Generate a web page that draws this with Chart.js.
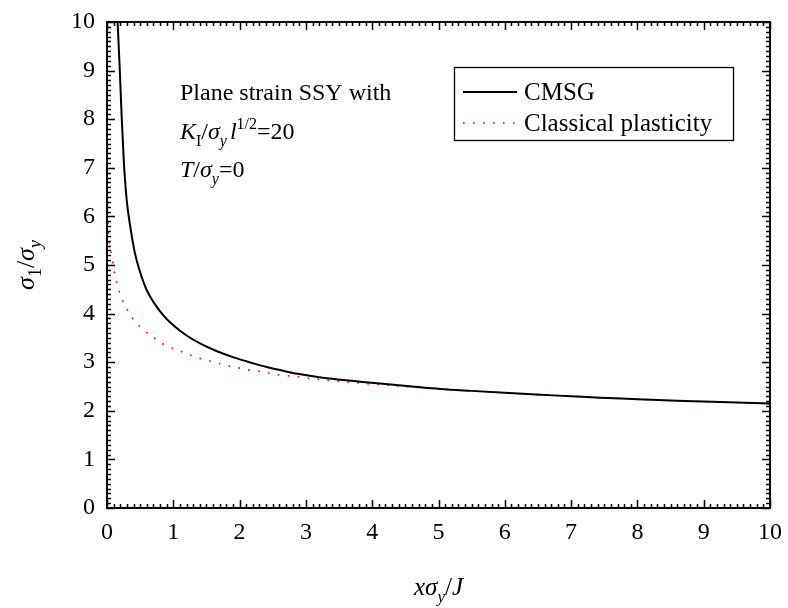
<!DOCTYPE html>
<html>
<head>
<meta charset="utf-8">
<script src="https://cdn.jsdelivr.net/npm/chart.js@4"></script>
<style>
  html, body { margin: 0; padding: 0; background: #fff; }
  canvas { display: block; }
</style>
</head>
<body>
<canvas id="chart" width="788" height="608"></canvas>
<script>
// sigma_1/sigma_y ahead of the crack tip, CMSG vs classical plasticity
const cmsgX = [0.16, 0.19, 0.22, 0.255, 0.30, 0.35, 0.42, 0.50, 0.60, 0.72, 0.84, 1.0, 1.2, 1.41, 1.65,
  1.91, 2.2, 2.41, 2.7, 2.92, 3.2, 3.52, 3.82, 4.2, 4.6, 5.03, 5.5, 6.0, 6.54, 7.0, 7.44, 8.0, 8.5, 9.0, 9.5, 10.0];
const cmsgY = [10.0, 9.1, 8.1, 7.1, 6.3, 5.8, 5.25, 4.85, 4.48, 4.2, 3.98, 3.76, 3.55, 3.38, 3.23,
  3.10, 2.98, 2.90, 2.81, 2.75, 2.69, 2.64, 2.60, 2.55, 2.50, 2.45, 2.41, 2.37, 2.33, 2.30, 2.27, 2.24, 2.21, 2.19, 2.17, 2.15];

const classicalX = [0.0, 0.005, 0.02, 0.05, 0.075, 0.095, 0.125, 0.166, 0.216, 0.29, 0.386, 0.53, 0.68, 0.84, 1.0,
  1.16, 1.31, 1.47, 1.62, 1.77, 1.93, 2.09, 2.25, 2.55, 2.87, 3.18, 3.49, 3.81, 4.2, 4.6, 5.03, 5.5, 6.0, 6.54, 7.0,
  7.44, 8.0, 8.5, 9.0, 9.5, 10.0];
const classicalY = [10.0, 7.5, 5.7, 5.35, 5.18, 4.97, 4.76, 4.54, 4.33, 4.12, 3.90, 3.69, 3.53, 3.38, 3.28,
  3.20, 3.12, 3.05, 3.00, 2.94, 2.90, 2.85, 2.82, 2.75, 2.70, 2.65, 2.61, 2.57, 2.53, 2.49, 2.45, 2.41, 2.37, 2.33, 2.30,
  2.27, 2.24, 2.21, 2.19, 2.17, 2.15];

const xRange = [0, 10];
const yRange = [0, 10];
const majorStep = 1;
const minorStep = 0.1;

const SERIF = '"Liberation Serif", "Times New Roman", serif';
const RED_DOTS = [1.6, 8.4];

const toPoints = (xs, ys) => xs.map((x, i) => ({ x, y: ys[i] }));

// draw a row of text pieces; sub/sup pieces are smaller and shifted
function drawRuns(ctx, x, y, runs, size) {
  let cx = x;
  for (const r of runs) {
    const s = r.sub || r.sup ? Math.round(size * 0.68) : size;
    const dy = r.sub ? size * 0.28 : r.sup ? -size * 0.42 : 0;
    ctx.font = `${r.it ? 'italic ' : ''}${s}px ${SERIF}`;
    ctx.fillText(r.t, cx, y + dy);
    cx += ctx.measureText(r.t).width + (r.gap || 0);
  }
  return cx - x;
}

function runsWidth(ctx, runs, size) {
  let w = 0;
  for (const r of runs) {
    const s = r.sub || r.sup ? Math.round(size * 0.68) : size;
    ctx.font = `${r.it ? 'italic ' : ''}${s}px ${SERIF}`;
    w += ctx.measureText(r.t).width + (r.gap || 0);
  }
  return w;
}

const decorations = {
  id: 'decorations',
  afterDraw(chart) {
    const { ctx, chartArea: a, scales } = chart;
    const xs = scales.x, ys = scales.y;
    ctx.save();
    ctx.strokeStyle = '#000';
    ctx.fillStyle = '#000';

    // inward ticks on all four sides
    ctx.lineWidth = 1.5;
    ctx.beginPath();
    for (let i = 0; i <= Math.round((xRange[1] - xRange[0]) / minorStep); i++) {
      const v = xRange[0] + i * minorStep;
      const len = i % 10 === 0 ? 8 : 4;
      const px = Math.round(xs.getPixelForValue(v)) + 0.5;
      ctx.moveTo(px, a.bottom); ctx.lineTo(px, a.bottom - len);
      ctx.moveTo(px, a.top); ctx.lineTo(px, a.top + len);
    }
    for (let i = 0; i <= Math.round((yRange[1] - yRange[0]) / minorStep); i++) {
      const v = yRange[0] + i * minorStep;
      const len = i % 10 === 0 ? 8 : 4;
      const py = Math.round(ys.getPixelForValue(v)) + 0.5;
      ctx.moveTo(a.left, py); ctx.lineTo(a.left + len, py);
      ctx.moveTo(a.right, py); ctx.lineTo(a.right - len, py);
    }
    ctx.stroke();

    // frame
    ctx.lineWidth = 2;
    ctx.strokeRect(a.left, a.top, a.right - a.left, a.bottom - a.top);

    // tick labels from the scales' own ticks
    ctx.font = `24px ${SERIF}`;
    ctx.textBaseline = 'middle';
    ctx.textAlign = 'center';
    xs.ticks.forEach(t => ctx.fillText(String(t.value), xs.getPixelForValue(t.value), a.bottom + 25));
    ctx.textAlign = 'right';
    ys.ticks.forEach(t => ctx.fillText(String(t.value), a.left - 12, ys.getPixelForValue(t.value)));

    // legend
    ctx.lineWidth = 1.3;
    ctx.strokeRect(454.5, 67.5, 279, 73);
    ctx.lineWidth = 2;
    ctx.beginPath(); ctx.moveTo(463, 92); ctx.lineTo(517, 92); ctx.stroke();
    ctx.strokeStyle = '#ff0000';
    ctx.lineWidth = 1.6;
    ctx.setLineDash(RED_DOTS);
    ctx.beginPath(); ctx.moveTo(463, 123); ctx.lineTo(517, 123); ctx.stroke();
    ctx.setLineDash([]);
    ctx.textBaseline = 'alphabetic';
    ctx.textAlign = 'left';
    ctx.font = `25px ${SERIF}`;
    ctx.fillText('CMSG', 524, 100);
    ctx.fillText('Classical plasticity', 524, 131);

    // loading conditions
    ctx.font = `24px ${SERIF}`;
    ctx.fillText('Plane strain SSY with', 180, 100);
    drawRuns(ctx, 180, 139, [
      { t: 'K', it: true }, { t: 'I', sub: true }, { t: '/' }, { t: 'σ', it: true },
      { t: 'y', it: true, sub: true, gap: 3 }, { t: 'l', it: true }, { t: '1/2', sup: true }, { t: '=20' }
    ], 24);
    drawRuns(ctx, 180, 177, [
      { t: 'T', it: true }, { t: '/' }, { t: 'σ', it: true }, { t: 'y', it: true, sub: true }, { t: '=0' }
    ], 24);

    // axis titles
    const xTitle = [{ t: 'x', it: true }, { t: 'σ', it: true }, { t: 'y', it: true, sub: true }, { t: '/' }, { t: 'J', it: true }];
    const xw = runsWidth(ctx, xTitle, 25);
    drawRuns(ctx, (a.left + a.right) / 2 - xw / 2, 595, xTitle, 25);

    const yTitle = [{ t: 'σ', it: true }, { t: '1', sub: true }, { t: '/' }, { t: 'σ', it: true }, { t: 'y', it: true, sub: true }];
    const yw = runsWidth(ctx, yTitle, 26);
    ctx.translate(34, (a.top + a.bottom) / 2);
    ctx.rotate(-Math.PI / 2);
    drawRuns(ctx, -yw / 2, 0, yTitle, 26);
    ctx.restore();
  }
};

new Chart(document.getElementById('chart'), {
  type: 'scatter',
  data: {
    datasets: [
      {
        label: 'CMSG',
        data: toPoints(cmsgX, cmsgY),
        showLine: true,
        borderColor: '#000',
        borderWidth: 2,
        pointRadius: 0,
        cubicInterpolationMode: 'monotone'
      },
      {
        label: 'Classical plasticity',
        data: toPoints(classicalX, classicalY),
        showLine: true,
        borderColor: '#ff0000',
        borderWidth: 1.6,
        borderDash: RED_DOTS,
        pointRadius: 0,
        cubicInterpolationMode: 'monotone'
      }
    ]
  },
  options: {
    responsive: false,
    animation: false,
    layout: { padding: { top: 22, right: 18, left: 0, bottom: 0 } },
    plugins: { legend: { display: false }, tooltip: { enabled: false } },
    scales: {
      x: {
        type: 'linear', min: xRange[0], max: xRange[1],
        ticks: { stepSize: majorStep, display: false },
        grid: { display: false, drawTicks: false },
        border: { display: false },
        afterFit(s) { s.height = 100; }
      },
      y: {
        type: 'linear', min: yRange[0], max: yRange[1],
        ticks: { stepSize: majorStep, display: false },
        grid: { display: false, drawTicks: false },
        border: { display: false },
        afterFit(s) { s.width = 107; }
      }
    }
  },
  plugins: [decorations]
});
</script>
</body>
</html>
